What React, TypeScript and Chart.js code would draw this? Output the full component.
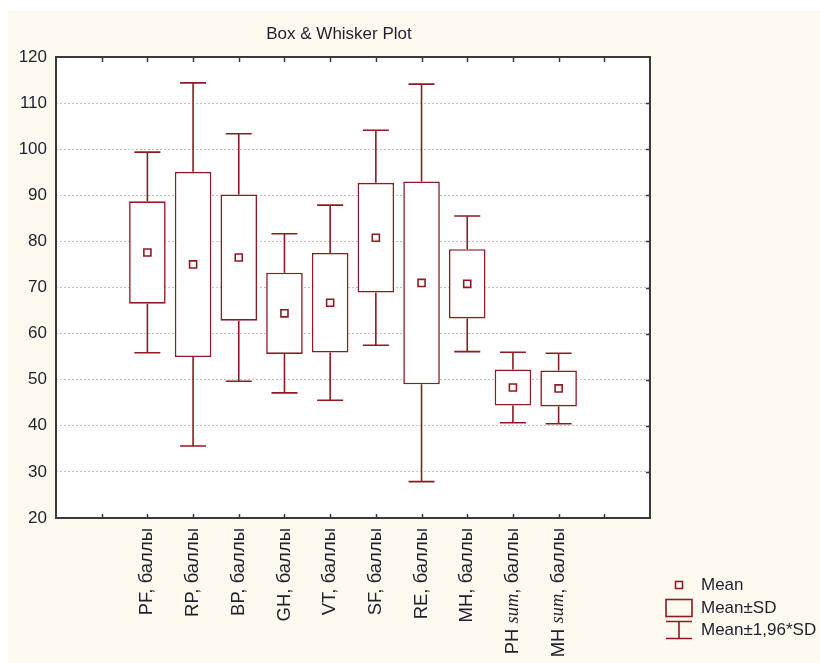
import React, { useEffect, useRef } from "react";
import { Chart, registerables } from "chart.js";

Chart.register(...registerables);

// Scale scores: mean and standard deviation per subscale
const categories = [
  "PF, баллы",
  "RP, баллы",
  "BP, баллы",
  "GH, баллы",
  "VT, баллы",
  "SF, баллы",
  "RE, баллы",
  "MH, баллы",
  "PH sum, баллы",
  "MH sum, баллы",
];
const means = [77.6, 75.0, 76.5, 64.4, 66.7, 80.8, 71.0, 70.8, 48.3, 48.1];
const sds = [11.1, 20.1, 13.7, 8.8, 10.8, 11.9, 22.0, 7.5, 3.9, 3.9];
const whiskerFactor = 1.96;

const yMin = 20;
const yMax = 120;
const yStep = 10;

const titleText = "Box & Whisker Plot";
const legendLabels = ["Mean", "Mean±SD", "Mean±1,96*SD"];

// two empty slots on each side of the categories
const slots = ["", "", ...categories, "", ""];
const SLOT_OFFSET = 2;

const RED = "#8e1b22";
const FRAME = "#3a3a3a";
const TEXT = "#1f1f2e";
const CREAM = "#fef9ee";
const SANS = "'Liberation Sans', Arial, sans-serif";
const FONT = `17px ${SANS}`;
const LABEL_FONT = `18.5px ${SANS}`;
const LABEL_ITALIC = `italic 18.5px 'Liberation Serif', 'Times New Roman', serif`;

const boxData = slots.map((_, k) => {
  const i = k - SLOT_OFFSET;
  return i >= 0 && i < categories.length ? [means[i] - sds[i], means[i] + sds[i]] : null;
});
const meanData = slots.map((_, k) => {
  const i = k - SLOT_OFFSET;
  return i >= 0 && i < categories.length ? means[i] : null;
});

const backgroundPlugin = {
  id: "plotBackground",
  beforeDraw(chart: any) {
    const { ctx, chartArea: a } = chart;
    ctx.save();
    ctx.fillStyle = CREAM;
    ctx.fillRect(0, 0, chart.width, chart.height);
    ctx.fillStyle = "#ffffff";
    ctx.fillRect(a.left, a.top, a.right - a.left, a.bottom - a.top);
    ctx.restore();
  },
};

const whiskerPlugin = {
  id: "whiskers",
  beforeDatasetsDraw(chart: any) {
    const { ctx } = chart;
    const xs = chart.scales.x;
    const ys = chart.scales.y;
    const cap = 13;
    ctx.save();
    ctx.strokeStyle = RED;
    ctx.lineWidth = 1.6;
    categories.forEach((_, i) => {
      const x = xs.getPixelForValue(i + SLOT_OFFSET);
      const hi = ys.getPixelForValue(means[i] + whiskerFactor * sds[i]);
      const boxHi = ys.getPixelForValue(means[i] + sds[i]);
      const lo = ys.getPixelForValue(means[i] - whiskerFactor * sds[i]);
      const boxLo = ys.getPixelForValue(means[i] - sds[i]);
      ctx.beginPath();
      ctx.moveTo(x, boxHi);
      ctx.lineTo(x, hi);
      ctx.moveTo(x - cap, hi);
      ctx.lineTo(x + cap, hi);
      ctx.moveTo(x, boxLo);
      ctx.lineTo(x, lo);
      ctx.moveTo(x - cap, lo);
      ctx.lineTo(x + cap, lo);
      ctx.stroke();
    });
    ctx.restore();
  },
};

function labelParts(label: string) {
  return label
    .split(/(sum)/)
    .filter((p) => p.length > 0)
    .map((p) => ({ text: p, italic: p === "sum" }));
}

const framePlugin = {
  id: "frameAndLabels",
  afterDraw(chart: any) {
    const { ctx, chartArea: a } = chart;
    const xs = chart.scales.x;
    const ys = chart.scales.y;
    ctx.save();

    // frame
    ctx.strokeStyle = FRAME;
    ctx.lineWidth = 2;
    ctx.strokeRect(a.left, a.top, a.right - a.left, a.bottom - a.top);

    // inward tick marks
    ctx.lineWidth = 1.5;
    ctx.beginPath();
    for (let k = 1; k < slots.length - 1; k++) {
      const x = Math.round(xs.getPixelForValue(k)) + 0.5;
      ctx.moveTo(x, a.top);
      ctx.lineTo(x, a.top + 5);
      ctx.moveTo(x, a.bottom);
      ctx.lineTo(x, a.bottom - 4);
    }
    for (let v = yMin + yStep; v < yMax; v += yStep) {
      const y = Math.round(ys.getPixelForValue(v)) + 0.5;
      ctx.moveTo(a.right, y);
      ctx.lineTo(a.right - 4, y);
    }
    ctx.stroke();

    // title
    ctx.fillStyle = TEXT;
    ctx.font = FONT;
    ctx.textAlign = "center";
    ctx.textBaseline = "middle";
    ctx.fillText(titleText, 331, 23);

    // rotated category labels
    const top = a.bottom + 10;
    categories.forEach((label, i) => {
      const x = xs.getPixelForValue(i + SLOT_OFFSET);
      const parts = labelParts(label);
      let total = 0;
      const widths = parts.map((p) => {
        ctx.font = p.italic ? LABEL_ITALIC : LABEL_FONT;
        const w = ctx.measureText(p.text).width;
        total += w;
        return w;
      });
      ctx.save();
      ctx.translate(x, top);
      ctx.rotate(-Math.PI / 2);
      ctx.textAlign = "left";
      ctx.textBaseline = "middle";
      let pos = -total;
      parts.forEach((p, j) => {
        ctx.font = p.italic ? LABEL_ITALIC : LABEL_FONT;
        ctx.fillText(p.text, pos, 0);
        pos += widths[j];
      });
      ctx.restore();
    });

    // legend
    const lx = 658;
    const lw = 26;
    const cx = lx + lw / 2;
    ctx.strokeStyle = RED;
    ctx.lineWidth = 1.6;
    // mean marker
    ctx.fillStyle = "#ffffff";
    ctx.fillRect(cx - 3.5, 574 - 3.5, 7, 7);
    ctx.strokeRect(cx - 3.5, 574 - 3.5, 7, 7);
    // box
    ctx.strokeRect(lx, 588.5, lw, 17);
    // whisker
    ctx.beginPath();
    ctx.moveTo(lx, 610.5);
    ctx.lineTo(lx + lw, 610.5);
    ctx.moveTo(cx, 610.5);
    ctx.lineTo(cx, 627.5);
    ctx.moveTo(lx, 627.5);
    ctx.lineTo(lx + lw, 627.5);
    ctx.stroke();

    ctx.fillStyle = TEXT;
    ctx.font = FONT;
    ctx.textAlign = "left";
    ctx.textBaseline = "middle";
    const ly = [574, 597, 619];
    legendLabels.forEach((t, i) => ctx.fillText(t, 693, ly[i]));

    ctx.restore();
  },
};

export default function App() {
  const canvasRef = useRef<HTMLCanvasElement | null>(null);

  useEffect(() => {
    if (!canvasRef.current) return;
    const chart = new Chart(canvasRef.current, {
      type: "bar",
      data: {
        labels: slots,
        datasets: [
          {
            type: "bar",
            label: legendLabels[1],
            data: boxData as any,
            backgroundColor: "#ffffff",
            borderColor: RED,
            borderWidth: 1.6,
            borderSkipped: false,
            barPercentage: 1,
            categoryPercentage: 0.8,
            order: 1,
          },
          {
            type: "line",
            label: legendLabels[0],
            data: meanData as any,
            showLine: false,
            pointStyle: "rect",
            pointRadius: 5,
            pointBackgroundColor: "#ffffff",
            pointBorderColor: RED,
            pointBorderWidth: 1.6,
            order: 0,
          },
        ],
      },
      options: {
        responsive: false,
        animation: false,
        layout: { padding: { top: 46, right: 170, bottom: 0, left: 0 } },
        plugins: {
          legend: { display: false },
          title: { display: false },
          tooltip: { enabled: false },
        },
        scales: {
          x: {
            offset: false,
            grid: { display: false },
            border: { display: false },
            ticks: { display: false },
            afterFit: (s: any) => {
              s.height = 145;
            },
          },
          y: {
            min: yMin,
            max: yMax,
            ticks: {
              stepSize: yStep,
              padding: 9,
              color: TEXT,
              font: { family: SANS, size: 17 },
            },
            grid: { color: "#c2c2c2", lineWidth: 1, drawTicks: false },
            border: { display: false, dash: [2, 2] },
            afterFit: (s: any) => {
              s.width = 48;
            },
          },
        },
      },
      plugins: [backgroundPlugin, whiskerPlugin, framePlugin],
    });
    return () => chart.destroy();
  }, []);

  return (
    <div style={{ position: "fixed", left: 8, top: 11, width: 812, height: 652 }}>
      <canvas ref={canvasRef} width={812} height={652} style={{ display: "block" }} />
    </div>
  );
}
